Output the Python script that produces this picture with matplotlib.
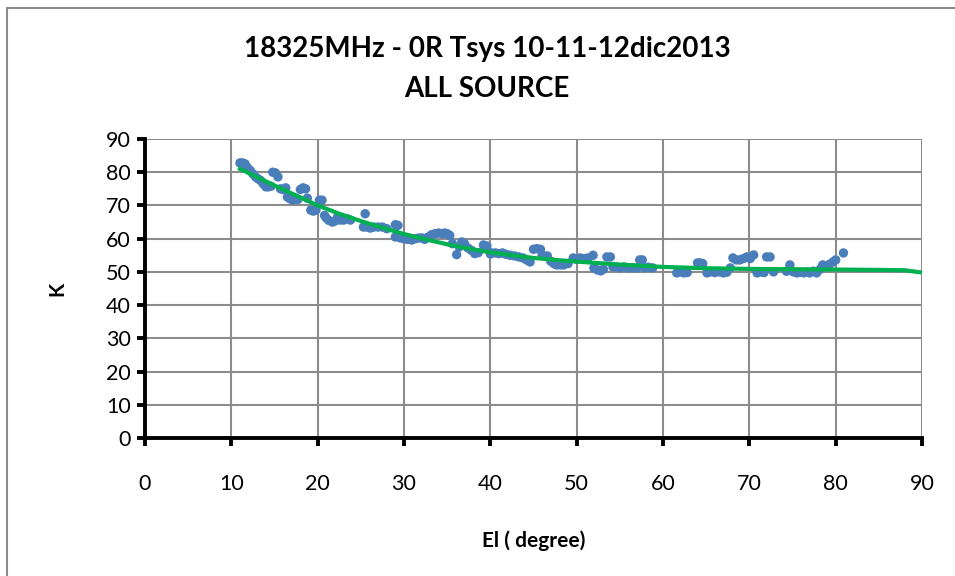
import matplotlib
matplotlib.use("Agg")
import matplotlib.pyplot as plt
from matplotlib.patches import Rectangle

plt.rcParams['font.family'] = ['Lato', 'DejaVu Sans']

title = "18325MHz - 0R Tsys 10-11-12dic2013\nALL SOURCE"
xlabel = "El ( degree)"
ylabel = "K"
x_ticks = [0, 10, 20, 30, 40, 50, 60, 70, 80, 90]
y_ticks = [0, 10, 20, 30, 40, 50, 60, 70, 80, 90]

# measured Tsys points (elevation, K)
el = [11.0, 11.3, 11.6, 11.9, 12.2, 12.5, 12.8, 13.1, 13.4, 13.7, 14.0, 14.3, 14.6,
      14.8, 15.1, 15.4, 15.7, 16.0, 16.3, 16.5, 16.8, 17.1, 17.4, 17.7, 18.0, 18.3,
      18.6, 18.8, 19.2, 19.5, 19.8, 20.2, 20.5, 20.8, 21.0, 21.3, 21.7, 22.0, 22.3,
      22.6, 23.0, 23.4, 23.8, 25.5, 25.3, 25.7, 26.1, 26.5, 27.0, 27.5, 28.0, 29.0,
      29.3, 29.0, 29.6, 30.0, 30.4, 30.9, 31.3, 31.7, 32.1, 32.4, 32.8, 33.2, 33.6,
      34.0, 34.4, 34.7, 35.0, 35.3, 35.6, 36.1, 36.4, 36.7, 37.0, 37.4, 37.8, 38.2,
      38.6, 39.2, 39.6, 40.0, 40.2, 40.6, 41.0, 41.4, 41.8, 42.3, 42.8, 43.3, 43.8,
      44.2, 44.6, 45.0, 45.4, 45.8, 46.0, 46.6, 47.0, 47.4, 47.7, 48.1, 48.5, 49.0,
      49.6, 50.0, 50.4, 50.9, 51.3, 51.9, 52.0, 52.4, 52.8, 53.1, 53.5, 53.9, 54.2,
      54.6, 55.0, 55.5, 56.0, 56.5, 57.0, 57.3, 57.6, 57.9, 58.3, 58.8, 61.6, 62.0,
      62.4, 62.8, 64.0, 64.3, 64.6, 65.1, 65.5, 66.0, 66.5, 67.0, 67.4, 67.8, 68.1,
      68.5, 68.9, 69.3, 69.7, 70.1, 70.5, 70.9, 71.3, 71.7, 72.0, 72.4, 72.8, 74.3,
      74.7, 75.1, 75.5, 75.9, 76.3, 76.7, 77.0, 77.4, 77.8, 78.2, 78.5, 78.9, 79.3,
      79.7, 80.0, 80.9]
tsys = [82.8, 82.8, 82.5, 81.3, 80.5, 79.5, 78.6, 78.0, 77.5, 76.5, 75.6, 75.6, 75.8,
        80.0, 79.8, 78.6, 75.0, 74.8, 75.3, 72.5, 72.0, 71.6, 72.2, 71.8, 74.8, 75.3,
        75.0, 72.2, 68.6, 68.3, 68.6, 71.6, 71.6, 67.0, 66.2, 65.5, 65.0, 65.3, 66.5,
        65.6, 65.6, 66.0, 65.6, 67.5, 63.5, 63.5, 63.2, 63.5, 63.5, 63.5, 63.0, 64.2,
        64.0, 60.5, 60.2, 60.0, 59.8, 59.6, 60.0, 60.2, 60.2, 59.8, 60.5, 61.2, 61.5,
        61.7, 61.5, 61.7, 61.5, 61.0, 58.5, 55.2, 57.5, 59.0, 58.5, 57.2, 56.5, 55.5,
        55.8, 58.1, 57.8, 55.4, 55.7, 55.7, 55.5, 55.7, 55.3, 55.0, 54.8, 54.5, 54.2,
        53.6, 53.0, 56.8, 57.0, 56.8, 55.1, 54.8, 53.2, 52.4, 52.1, 52.1, 52.1, 52.5,
        54.2, 53.8, 54.2, 54.0, 54.2, 55.0, 51.2, 50.6, 50.3, 50.8, 54.5, 54.5, 51.5,
        51.5, 51.2, 51.5, 51.2, 51.2, 51.2, 53.6, 53.6, 51.2, 51.4, 51.2, 49.7, 50.0,
        49.7, 49.8, 52.7, 52.7, 52.5, 49.7, 50.0, 49.8, 50.0, 49.7, 49.9, 51.2, 54.2,
        53.6, 53.6, 54.0, 54.5, 54.0, 55.1, 49.7, 50.0, 49.8, 54.5, 54.5, 50.0, 50.2,
        52.1, 50.0, 49.7, 49.9, 49.7, 50.0, 49.7, 50.2, 49.7, 50.8, 52.1, 51.8, 52.3,
        53.0, 53.6, 55.7]

# fitted curve
fit_el = [11, 13, 15, 17.5, 20, 22.5, 25, 27.5, 30, 32.5, 35, 37.5, 40, 42.5, 45, 47.5,
          50, 55, 60, 65, 70, 75, 80, 85, 88, 90]
fit_k = [81.0, 78.5, 76.0, 73.0, 70.0, 67.5, 65.3, 63.3, 61.4, 59.8, 58.3, 57.0, 55.9,
         55.0, 54.2, 53.6, 53.1, 52.2, 51.5, 51.1, 50.9, 50.8, 50.7, 50.6, 50.5, 49.8]

fig = plt.figure(figsize=(9.55, 5.76), dpi=100)
fig.patches.append(Rectangle((7 / 955, -0.05), 1.1, 1.05 - 8 / 576,
                             transform=fig.transFigure, fill=False,
                             edgecolor='#8c8c8c', linewidth=1.5))
ax = fig.add_axes([145 / 955, 1 - 438 / 576, (922 - 145) / 955, (438 - 139) / 576])

ax.scatter(el, tsys, s=46, color='#4a7ebb', edgecolors='none', zorder=3)
ax.plot(fit_el, fit_k, color='#00b050', linewidth=3, zorder=4)

ax.set_xlim(0, 90)
ax.set_ylim(0, 90)
ax.set_xticks(x_ticks)
ax.set_yticks(y_ticks)
ax.grid(True, color='#8c8c8c', linewidth=1.5)
ax.set_axisbelow(True)
for s in ['top', 'right']:
    ax.spines[s].set_visible(False)
for s in ['left', 'bottom']:
    ax.spines[s].set_linewidth(2.8)
    ax.spines[s].set_color('black')
ax.tick_params(axis='x', direction='out', length=6, width=2.8, pad=20, labelsize=15.5)
ax.tick_params(axis='y', direction='out', length=6, width=2.8, pad=4, labelsize=15.5)

ax.set_xlabel(xlabel, fontsize=15, fontweight='bold', labelpad=26)
ax.set_ylabel(ylabel, fontsize=15, fontweight='bold', labelpad=28)
fig.text(487 / 955, 1 - 69 / 576, title, fontsize=20, fontweight='bold',
         ha='center', va='center', linespacing=1.7)

fig.savefig('out.png', dpi=100)
